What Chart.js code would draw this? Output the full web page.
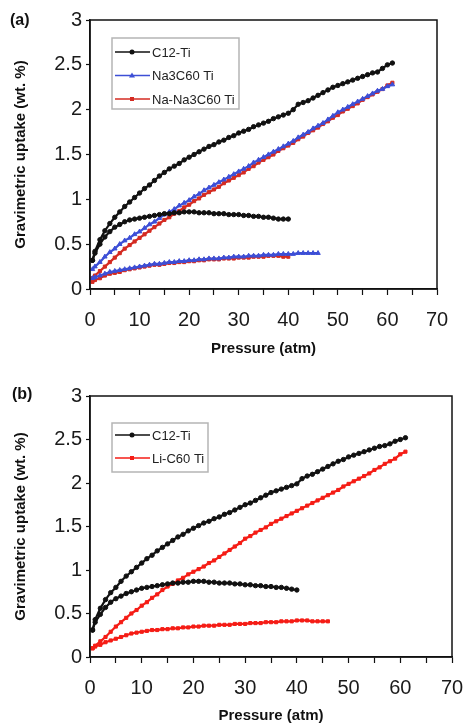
<!DOCTYPE html>
<html lang="en">
<head>
  <meta charset="UTF-8">
  <title>Gravimetric uptake vs pressure</title>
  <script src="https://cdn.jsdelivr.net/npm/chart.js"></script>
  <style>
    html, body { margin: 0; padding: 0; background: #fff; }
    body { width: 463px; height: 723px; position: relative; overflow: hidden; font-family: Arial, "Liberation Sans", sans-serif; }
    .panel { position: absolute; left: 0; width: 463px; }
    #panelA { top: 0; height: 362px; }
    #panelB { top: 362px; height: 366px; }
  </style>
</head>
<body>
  <div class="panel" id="panelA"><canvas id="chartA"></canvas></div>
  <div class="panel" id="panelB"><canvas id="chartB"></canvas></div>

  <script>
    // pressure points (atm)
    const pressureTo61 = [0.5, 1, 2, 3, 4, 5, 6, 7, 8, 9, 10, 11, 12, 13, 14, 15, 16, 17, 18, 19, 20,
      21, 22, 23, 24, 25, 26, 27, 28, 29, 30, 31, 32, 33, 34, 35, 36, 37, 38, 39, 40,
      41, 42, 43, 44, 45, 46, 47, 48, 49, 50, 51, 52, 53, 54, 55, 56, 57, 58, 59, 60, 61];
    const pressureTo40 = [0.5, 1, 2, 3, 4, 5, 6, 7, 8, 9, 10, 11, 12, 13, 14, 15, 16, 17, 18, 19, 20,
      21, 22, 23, 24, 25, 26, 27, 28, 29, 30, 31, 32, 33, 34, 35, 36, 37, 38, 39, 40];
    const pressureTo46 = [0.5, 1, 2, 3, 4, 5, 6, 7, 8, 9, 10, 11, 12, 13, 14, 15, 16, 17, 18, 19, 20,
      21, 22, 23, 24, 25, 26, 27, 28, 29, 30, 31, 32, 33, 34, 35, 36, 37, 38, 39, 40,
      41, 42, 43, 44, 45, 46];

    // panel (a) uptake, wt. %
    const c12UpA = [0.32, 0.42, 0.55, 0.65, 0.73, 0.8, 0.86, 0.92, 0.97, 1.02, 1.07, 1.12, 1.16, 1.21, 1.26, 1.3, 1.34, 1.37, 1.4, 1.44, 1.47,
      1.5, 1.53, 1.56, 1.59, 1.61, 1.64, 1.66, 1.69, 1.71, 1.74, 1.76, 1.78, 1.81, 1.83, 1.85, 1.87, 1.9, 1.92, 1.94, 1.96,
      2.0, 2.06, 2.08, 2.1, 2.13, 2.16, 2.19, 2.22, 2.25, 2.27, 2.29, 2.31, 2.33, 2.35, 2.37, 2.39, 2.41, 2.42, 2.46, 2.5, 2.52];
    const c12LowA = [0.32, 0.4, 0.5, 0.58, 0.64, 0.69, 0.72, 0.75, 0.77, 0.78, 0.79, 0.8, 0.81, 0.82, 0.83, 0.84, 0.84, 0.85, 0.85, 0.86, 0.86,
      0.86, 0.85, 0.85, 0.85, 0.84, 0.84, 0.84, 0.83, 0.83, 0.83, 0.82, 0.82, 0.81, 0.81, 0.8, 0.8, 0.79, 0.78, 0.78, 0.78];
    const na3UpA = [0.22, 0.25, 0.3, 0.36, 0.41, 0.45, 0.5, 0.54, 0.57, 0.61, 0.64, 0.68, 0.72, 0.75, 0.79, 0.83, 0.86, 0.89, 0.93, 0.96, 0.99,
      1.03, 1.06, 1.1, 1.13, 1.16, 1.19, 1.22, 1.25, 1.28, 1.31, 1.34, 1.37, 1.41, 1.44, 1.47, 1.5, 1.53, 1.56, 1.59, 1.62,
      1.65, 1.69, 1.72, 1.75, 1.79, 1.82, 1.85, 1.89, 1.93, 1.97, 2.0, 2.03, 2.06, 2.09, 2.12, 2.15, 2.18, 2.21, 2.23, 2.26, 2.28];
    const na3LowA = [0.12, 0.13, 0.15, 0.17, 0.19, 0.2, 0.21, 0.22, 0.23, 0.24, 0.25, 0.26, 0.27, 0.28, 0.28, 0.29, 0.3, 0.3, 0.31, 0.31, 0.32,
      0.32, 0.33, 0.33, 0.34, 0.34, 0.34, 0.35, 0.35, 0.36, 0.36, 0.36, 0.37, 0.37, 0.37, 0.38, 0.38, 0.38, 0.39, 0.39, 0.39,
      0.39, 0.4, 0.4, 0.4, 0.4, 0.4];
    const naNa3UpA = [0.12, 0.15, 0.2, 0.25, 0.3, 0.35, 0.4, 0.45, 0.49, 0.53, 0.57, 0.61, 0.65, 0.69, 0.73, 0.77, 0.8, 0.84, 0.87, 0.91, 0.94,
      0.98, 1.01, 1.05, 1.08, 1.11, 1.14, 1.18, 1.21, 1.24, 1.27, 1.3, 1.34, 1.37, 1.41, 1.44, 1.47, 1.5, 1.54, 1.57, 1.6,
      1.63, 1.67, 1.7, 1.74, 1.77, 1.8, 1.84, 1.87, 1.91, 1.94, 1.98, 2.01, 2.04, 2.07, 2.11, 2.14, 2.17, 2.2, 2.23, 2.27, 2.3];
    const naNa3LowA = [0.08, 0.1, 0.12, 0.15, 0.17, 0.18, 0.19, 0.21, 0.22, 0.23, 0.24, 0.25, 0.26, 0.27, 0.27, 0.28, 0.29, 0.29, 0.3, 0.3, 0.31,
      0.31, 0.32, 0.32, 0.33, 0.33, 0.33, 0.34, 0.34, 0.34, 0.35, 0.35, 0.35, 0.36, 0.36, 0.36, 0.37, 0.37, 0.37, 0.36, 0.36];

    // panel (b) uptake, wt. %
    const c12UpB = [0.31, 0.43, 0.56, 0.66, 0.74, 0.8, 0.87, 0.93, 0.98, 1.03, 1.08, 1.13, 1.17, 1.22, 1.26, 1.3, 1.34, 1.38, 1.41, 1.45, 1.48,
      1.51, 1.54, 1.56, 1.59, 1.61, 1.64, 1.66, 1.69, 1.72, 1.75, 1.77, 1.8, 1.83, 1.86, 1.89, 1.91, 1.93, 1.95, 1.97, 1.99,
      2.05, 2.08, 2.1, 2.13, 2.16, 2.19, 2.22, 2.25, 2.27, 2.3, 2.32, 2.34, 2.36, 2.38, 2.4, 2.42, 2.43, 2.45, 2.48, 2.5, 2.52];
    const c12LowB = [0.31, 0.4, 0.49, 0.57, 0.63, 0.67, 0.7, 0.73, 0.75, 0.77, 0.79, 0.8, 0.81, 0.82, 0.83, 0.84, 0.85, 0.85, 0.86, 0.86, 0.87,
      0.87, 0.87, 0.86, 0.86, 0.85, 0.85, 0.85, 0.84, 0.84, 0.83, 0.83, 0.82, 0.82, 0.81, 0.81, 0.8, 0.8, 0.79, 0.78, 0.77];
    const liUpB = [0.1, 0.13, 0.18, 0.23, 0.29, 0.35, 0.4, 0.45, 0.5, 0.54, 0.59, 0.63, 0.68, 0.72, 0.77, 0.81, 0.84, 0.88, 0.91, 0.95, 0.98,
      1.01, 1.04, 1.08, 1.11, 1.15, 1.19, 1.23, 1.27, 1.31, 1.36, 1.39, 1.43, 1.46, 1.49, 1.53, 1.56, 1.59, 1.62, 1.65, 1.68,
      1.71, 1.74, 1.77, 1.8, 1.83, 1.86, 1.89, 1.92, 1.96, 1.99, 2.02, 2.05, 2.08, 2.11, 2.15, 2.18, 2.22, 2.25, 2.28, 2.33, 2.36];
    const liLowB = [0.1, 0.12, 0.14, 0.17, 0.19, 0.21, 0.23, 0.25, 0.27, 0.28, 0.29, 0.3, 0.31, 0.31, 0.32, 0.32, 0.33, 0.33, 0.34, 0.34, 0.35,
      0.35, 0.36, 0.36, 0.36, 0.37, 0.37, 0.37, 0.38, 0.38, 0.38, 0.39, 0.39, 0.39, 0.4, 0.4, 0.4, 0.41, 0.41, 0.41, 0.42,
      0.42, 0.42, 0.41, 0.41, 0.41, 0.41];

    const namesA = ['C12-Ti', 'Na3C60 Ti', 'Na-Na3C60 Ti'];
    const namesB = ['C12-Ti', 'Li-C60 Ti'];

    function pts(xs, ys) {
      return xs.map((x, i) => ({ x: x, y: ys[i] }));
    }

    function line(label, data, color, style, radius) {
      return {
        label: label,
        data: data,
        borderColor: color,
        backgroundColor: color,
        borderWidth: 2.2,
        pointStyle: style,
        pointRadius: radius,
        pointBorderWidth: 1,
        tension: 0
      };
    }

    // box around the plot area and the panel tag
    const frame = {
      id: 'frame',
      afterDraw(chart, args, opts) {
        const { left, right, top, bottom } = chart.chartArea;
        const ctx = chart.ctx;
        ctx.save();
        ctx.strokeStyle = '#111';
        ctx.lineWidth = 1.5;
        ctx.strokeRect(left, top, right - left, bottom - top);
        ctx.fillStyle = '#111';
        ctx.font = 'bold 16px Arial';
        ctx.textBaseline = 'middle';
        ctx.fillText(opts.tag, opts.tagX, opts.tagY);
        ctx.restore();
      }
    };

    // legend drawn in a grey box inside the plot
    const boxLegend = {
      id: 'boxLegend',
      afterDraw(chart, args, opts) {
        const ctx = chart.ctx;
        ctx.save();
        ctx.fillStyle = '#fff';
        ctx.fillRect(opts.x, opts.y, opts.w, opts.h);
        ctx.strokeStyle = '#b5b5b5';
        ctx.lineWidth = 1.5;
        ctx.strokeRect(opts.x, opts.y, opts.w, opts.h);
        ctx.font = '13px Arial';
        ctx.textBaseline = 'middle';
        opts.names.forEach((name, i) => {
          const ds = chart.data.datasets.find(d => d.label === name);
          const y = opts.y + opts.first + i * opts.gap;
          ctx.strokeStyle = ds.borderColor;
          ctx.fillStyle = ds.borderColor;
          ctx.lineWidth = 1.5;
          ctx.beginPath();
          ctx.moveTo(opts.x + 3, y);
          ctx.lineTo(opts.x + 38, y);
          ctx.stroke();
          const mx = opts.x + 20;
          ctx.beginPath();
          if (ds.pointStyle === 'triangle') {
            ctx.moveTo(mx, y - 3); ctx.lineTo(mx + 3, y + 2); ctx.lineTo(mx - 3, y + 2); ctx.closePath();
          } else if (ds.pointStyle === 'rect') {
            ctx.rect(mx - 2, y - 2, 4, 4);
          } else {
            ctx.arc(mx, y, 2.5, 0, Math.PI * 2);
          }
          ctx.fill();
          ctx.fillStyle = '#222';
          ctx.fillText(name, opts.x + 40, y + 1);
        });
        ctx.restore();
      }
    };

    function makePanel(id, datasets, pad, xHeight, tag, legend, xTitlePad) {
      return new Chart(document.getElementById(id), {
        type: 'line',
        data: { datasets: datasets },
        options: {
          responsive: true,
          maintainAspectRatio: false,
          animation: false,
          devicePixelRatio: 1,
          layout: { padding: pad },
          plugins: {
            legend: { display: false },
            tooltip: { enabled: false },
            frame: tag,
            boxLegend: legend
          },
          scales: {
            x: {
              type: 'linear',
              min: 0,
              max: 70,
              afterFit: s => { s.height = xHeight; s.paddingLeft = 0; s.paddingRight = 0; },
              border: { color: '#111', width: 1.5 },
              grid: { drawOnChartArea: false, color: '#111', tickLength: 6, tickWidth: 1.2 },
              ticks: {
                stepSize: 5,
                autoSkip: false,
                maxRotation: 0,
                padding: 13,
                color: '#1a1a1a',
                font: { family: 'Arial', size: 20 },
                callback: v => (v % 10 === 0 ? String(v) : '')
              },
              title: {
                display: true,
                text: 'Pressure (atm)',
                color: '#111',
                font: { family: 'Arial', size: 15, weight: 'bold' },
                padding: { top: 0, bottom: xTitlePad }
              }
            },
            y: {
              min: 0,
              max: 3,
              afterFit: s => { s.width = 90; s.paddingTop = 0; s.paddingBottom = 0; },
              border: { color: '#111', width: 1.5 },
              grid: { drawOnChartArea: false, color: '#111', tickLength: 4, tickWidth: 1.2 },
              ticks: {
                stepSize: 0.5,
                padding: 4,
                color: '#1a1a1a',
                font: { family: 'Arial', size: 20 },
                callback: v => String(v)
              },
              title: {
                display: true,
                text: 'Gravimetric uptake (wt. %)',
                color: '#111',
                font: { family: 'Arial', size: 15, weight: 'bold' },
                padding: { top: 12, bottom: 0 }
              }
            }
          }
        },
        plugins: [frame, boxLegend]
      });
    }

    const black = '#111111';
    const blue = '#3d4fd6';
    const redA = '#d42b22';
    const redB = '#f51d16';

    makePanel('chartA', [
      line(namesA[0], pts(pressureTo61, c12UpA), black, 'circle', 2.2),
      line(namesA[0], pts(pressureTo40, c12LowA), black, 'circle', 2.2),
      line(namesA[1], pts(pressureTo61, na3UpA), blue, 'triangle', 2.6),
      line(namesA[1], pts(pressureTo46, na3LowA), blue, 'triangle', 2.6),
      line(namesA[2], pts(pressureTo61, naNa3UpA), redA, 'rect', 2.2),
      line(namesA[2], pts(pressureTo40, naNa3LowA), redA, 'rect', 2.2)
    ], { top: 20, right: 26, bottom: 0, left: 0 }, 73,
      { tag: '(a)', tagX: 10, tagY: 21 },
      { names: namesA, x: 112, y: 38, w: 127, h: 71, first: 14, gap: 23.5 }, 4);

    makePanel('chartB', [
      line(namesB[0], pts(pressureTo61, c12UpB), black, 'circle', 2.2),
      line(namesB[0], pts(pressureTo40, c12LowB), black, 'circle', 2.2),
      line(namesB[1], pts(pressureTo61, liUpB), redB, 'rect', 2.2),
      line(namesB[1], pts(pressureTo46, liLowB), redB, 'rect', 2.2)
    ], { top: 34, right: 11, bottom: 0, left: 0 }, 71,
      { tag: '(b)', tagX: 12, tagY: 33 },
      { names: namesB, x: 112, y: 61, w: 96, h: 49, first: 12, gap: 23 }, 3);
  </script>
</body>
</html>
